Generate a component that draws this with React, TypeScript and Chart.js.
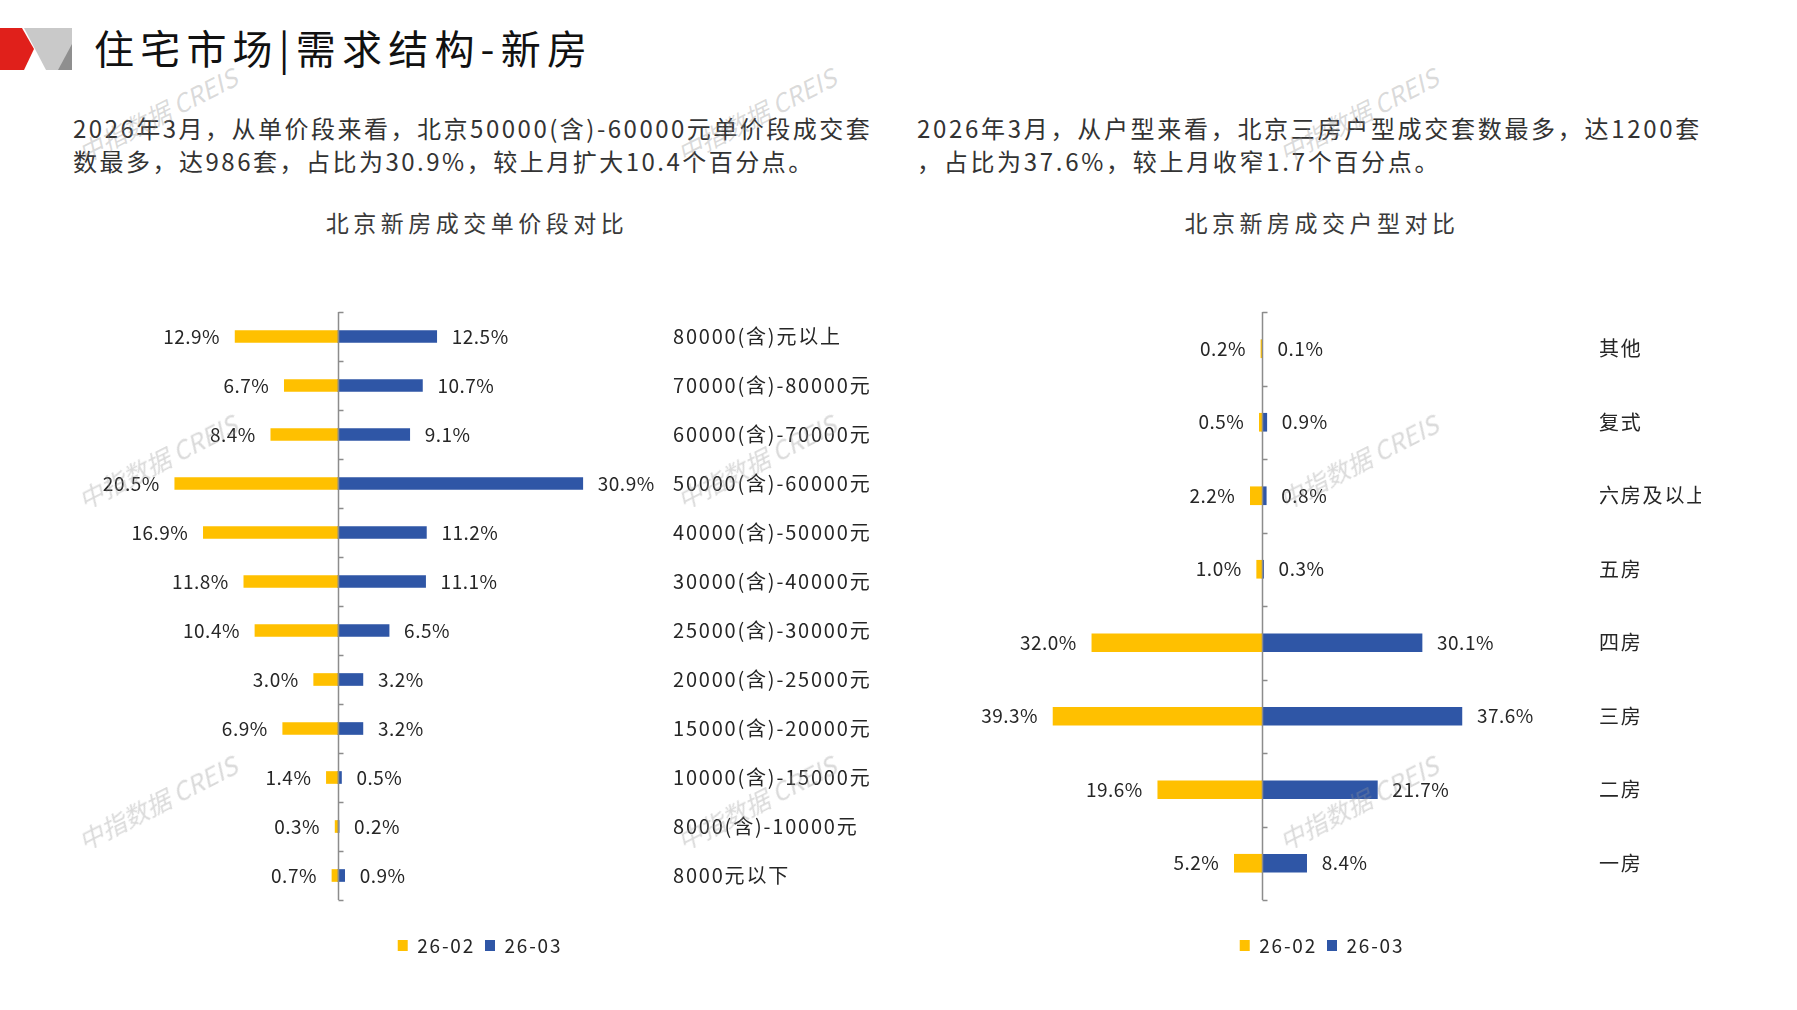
import React, { useEffect, useRef } from "react";
import { Chart, registerables } from "chart.js";

Chart.register(...registerables);

const FONT = '"Noto Sans CJK SC", "Noto Sans", sans-serif';
Chart.defaults.font.family = FONT;

// ---------- data ----------
const priceCategories = [
  "80000(含)元以上",
  "70000(含)-80000元",
  "60000(含)-70000元",
  "50000(含)-60000元",
  "40000(含)-50000元",
  "30000(含)-40000元",
  "25000(含)-30000元",
  "20000(含)-25000元",
  "15000(含)-20000元",
  "10000(含)-15000元",
  "8000(含)-10000元",
  "8000元以下",
];
const priceFeb = [12.9, 6.7, 8.4, 20.5, 16.9, 11.8, 10.4, 3.0, 6.9, 1.4, 0.3, 0.7];
const priceMar = [12.5, 10.7, 9.1, 30.9, 11.2, 11.1, 6.5, 3.2, 3.2, 0.5, 0.2, 0.9];

const typeCategories = ["其他", "复式", "六房及以上", "五房", "四房", "三房", "二房", "一房"];
const typeFeb = [0.2, 0.5, 2.2, 1.0, 32.0, 39.3, 19.6, 5.2];
const typeMar = [0.1, 0.9, 0.8, 0.3, 30.1, 37.6, 21.7, 8.4];

const seriesLabels = ["26-02", "26-03"];

const YELLOW = "#FFC000";
const BLUE = "#2F56A6";
const TEXT = "#262626";

// ---------- plugins ----------
const spacingPlugin = {
  id: "letterSpacing",
  beforeLayout(chart: any) {
    chart.ctx.letterSpacing = "1.8px";
  },
  beforeDraw(chart: any) {
    chart.ctx.letterSpacing = "1.8px";
  },
};

const centerAxisPlugin = {
  id: "centerAxis",
  afterDatasetsDraw(chart: any) {
    const { ctx, chartArea, scales } = chart;
    const x0 = Math.round(scales.x.getPixelForValue(0)) + 0.5;
    const n = scales.y.ticks.length;
    ctx.save();
    ctx.strokeStyle = "#8C8C8C";
    ctx.lineWidth = 1.5;
    ctx.beginPath();
    ctx.moveTo(x0, chartArea.top);
    ctx.lineTo(x0, chartArea.bottom);
    for (let i = 0; i <= n; i++) {
      const y = Math.round(chartArea.top + ((chartArea.bottom - chartArea.top) * i) / n) + 0.5;
      ctx.moveTo(x0, y);
      ctx.lineTo(x0 + 5, y);
    }
    ctx.stroke();
    ctx.restore();
  },
};

const valueLabelPlugin = {
  id: "valueLabels",
  afterDatasetsDraw(chart: any) {
    const { ctx } = chart;
    ctx.save();
    ctx.letterSpacing = "0.5px";
    ctx.font = `19px ${FONT}`;
    ctx.fillStyle = TEXT;
    ctx.textBaseline = "middle";
    chart.data.datasets.forEach((ds: any, di: number) => {
      const meta = chart.getDatasetMeta(di);
      meta.data.forEach((el: any, i: number) => {
        const v = ds.data[i] as number;
        const text = Math.abs(v).toFixed(1) + "%";
        if (v < 0) {
          ctx.textAlign = "right";
          ctx.fillText(text, el.x - 15, el.y);
        } else {
          ctx.textAlign = "left";
          ctx.fillText(text, el.x + 15, el.y);
        }
      });
    });
    ctx.restore();
  },
};

// ---------- chart component ----------
type MirrorProps = {
  categories: string[];
  feb: number[];
  mar: number[];
  xMax: number;
  barThickness: number;
  left: number;
  width: number;
  axisWidth: number;
  padLeft: number;
  padRight: number;
};

function MirrorBar(p: MirrorProps) {
  const ref = useRef<HTMLCanvasElement>(null);
  useEffect(() => {
    const chart = new Chart(ref.current as HTMLCanvasElement, {
      type: "bar",
      data: {
        labels: p.categories,
        datasets: [
          {
            label: seriesLabels[0],
            data: p.feb.map((v) => -v),
            backgroundColor: YELLOW,
            barThickness: p.barThickness,
          },
          {
            label: seriesLabels[1],
            data: p.mar,
            backgroundColor: BLUE,
            barThickness: p.barThickness,
          },
        ],
      },
      options: {
        indexAxis: "y",
        animation: false,
        responsive: true,
        maintainAspectRatio: false,
        layout: { padding: { left: p.padLeft, top: 22, right: p.padRight, bottom: 5 } },
        scales: {
          x: {
            min: -p.xMax,
            max: p.xMax,
            stacked: true,
            grid: { display: false },
            border: { display: false },
            ticks: { display: false },
            afterFit: (s: any) => {
              s.height = 26;
              s.paddingLeft = 0;
              s.paddingRight = 0;
            },
          },
          y: {
            position: "right",
            stacked: true,
            grid: { display: false, drawTicks: false },
            border: { display: false },
            ticks: {
              padding: 18,
              crossAlign: "near",
              color: TEXT,
              font: { size: 20 },
            },
            afterFit: (s: any) => {
              s.width = p.axisWidth;
              s.paddingTop = 0;
              s.paddingBottom = 0;
            },
          },
        },
        plugins: {
          legend: {
            position: "bottom",
            labels: {
              boxWidth: 10,
              boxHeight: 11,
              color: TEXT,
              font: { size: 19 },
              padding: 10,
            },
          },
          tooltip: { enabled: false },
        },
      } as any,
      plugins: [spacingPlugin, centerAxisPlugin, valueLabelPlugin],
    });
    return () => chart.destroy();
  }, []);
  return (
    <div style={{ position: "absolute", left: p.left, top: 290, width: p.width, height: 680 }}>
      <canvas ref={ref} />
    </div>
  );
}

// ---------- page ----------
const watermarkSpots = [
  [157, 114], [756, 114], [1358, 114],
  [157, 461], [756, 461], [1358, 461],
  [157, 802], [756, 802], [1358, 802],
];

export default function App() {
  const para: React.CSSProperties = {
    position: "absolute",
    top: 111,
    fontSize: 24,
    lineHeight: "33px",
    letterSpacing: "2.5px",
    color: "#333333",
    whiteSpace: "nowrap",
  };
  const chartTitle: React.CSSProperties = {
    position: "absolute",
    top: 207,
    width: 500,
    textAlign: "center",
    fontSize: 23,
    lineHeight: "30px",
    letterSpacing: "4.5px",
    color: "#3A3A3A",
  };
  return (
    <div
      style={{
        position: "absolute",
        left: 0,
        top: 0,
        width: 1797,
        height: 1010,
        background: "#ffffff",
        fontFamily: FONT,
        overflow: "hidden",
      }}
    >
      <svg width={80} height={80} style={{ position: "absolute", left: 0, top: 0 }}>
        <polygon points="24,28 72,28 72,70 46,70" fill="#C9C9C9" />
        <polygon points="72,44 72,70 58,70" fill="#8F8F8F" />
        <polygon points="0,28 22,28 34,49 24,70 0,70" fill="#E0201B" />
      </svg>
      <div
        style={{
          position: "absolute",
          left: 94,
          top: 23,
          fontSize: 40,
          lineHeight: "48px",
          letterSpacing: "6.2px",
          color: "#111111",
          whiteSpace: "nowrap",
        }}
      >
        住宅市场|需求结构-新房
      </div>

      <div style={{ ...para, left: 73 }}>
        2026年3月，从单价段来看，北京50000(含)-60000元单价段成交套
        <br />
        数最多，达986套，占比为30.9%，较上月扩大10.4个百分点。
      </div>
      <div style={{ ...para, left: 917, letterSpacing: "2.7px" }}>
        2026年3月，从户型来看，北京三房户型成交套数最多，达1200套
        <br />
        ，占比为37.6%，较上月收窄1.7个百分点。
      </div>

      <div style={{ ...chartTitle, left: 477 - 250 }}>北京新房成交单价段对比</div>
      <div style={{ ...chartTitle, left: 1322 - 250 }}>北京新房成交户型对比</div>

      <MirrorBar
        categories={priceCategories}
        feb={priceFeb}
        mar={priceMar}
        xMax={40}
        barThickness={12}
        left={8}
        width={932}
        axisWidth={285}
        padLeft={12}
        padRight={0}
      />
      <MirrorBar
        categories={typeCategories}
        feb={typeFeb}
        mar={typeMar}
        xMax={60}
        barThickness={18}
        left={905}
        width={810}
        axisWidth={120}
        padLeft={38}
        padRight={14}
      />

      {watermarkSpots.map(([x, y], i) => (
        <div
          key={i}
          style={{
            position: "absolute",
            left: x,
            top: y,
            transform: "translate(-50%, -50%) rotate(-27deg)",
            fontSize: 25,
            color: "rgba(150,150,150,0.35)",
            whiteSpace: "nowrap",
            pointerEvents: "none",
            fontStyle: "italic",
          }}
        >
          中指数据 CREIS
        </div>
      ))}
    </div>
  );
}
